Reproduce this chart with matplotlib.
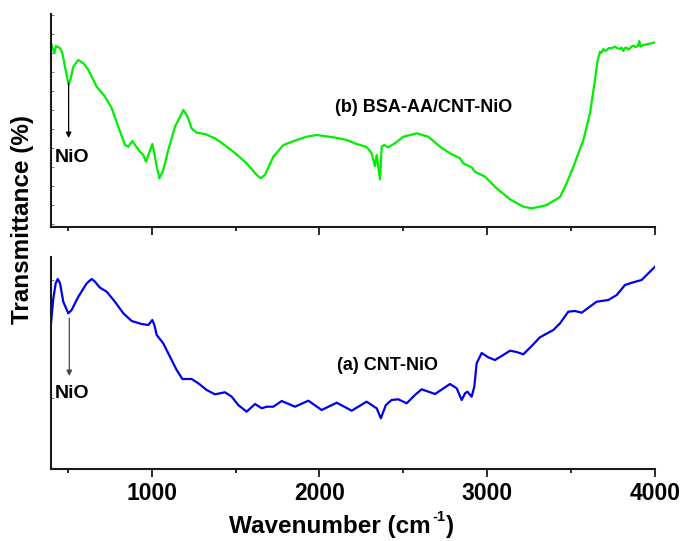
import matplotlib
matplotlib.use("Agg")
import matplotlib.pyplot as plt
import numpy as np

plt.rcParams['font.family'] = ['Liberation Sans', 'DejaVu Sans']
plt.rcParams['font.weight'] = 'bold'

# FTIR spectra (relative transmittance, arbitrary offset per panel)
wn_b = [400, 420, 430, 454, 468, 483, 505, 515, 533, 563, 593, 623, 672, 722,
        762, 801, 841, 861, 885, 905, 930, 950, 966, 984, 1004, 1016, 1030,
        1046, 1069, 1099, 1139, 1189, 1214, 1238, 1268, 1318, 1377, 1407, 1487,
        1566, 1626, 1650, 1675, 1725, 1785, 1864, 1924, 1983, 2083, 2162, 2222,
        2281, 2311, 2331, 2341, 2351, 2361, 2371, 2385, 2410, 2450, 2500, 2580,
        2649, 2719, 2778, 2838, 2857, 2907, 2927, 2987, 3056, 3136, 3215, 3265,
        3314, 3354, 3434, 3473, 3513, 3573, 3613, 3642, 3656, 3672, 3680, 3692,
        3700, 3712, 3725, 3742, 3761, 3775, 3791, 3800, 3811, 3820, 3831, 3842,
        3851, 3860, 3870, 3885, 3900, 3906, 3914, 3930, 3950, 3975, 4000]
t_bsa = [184.3, 173.7, 181.0, 178.7, 173.7, 160.3, 142.0, 147.0, 160.3, 167.0,
         163.7, 157.0, 140.3, 130.3, 118.7, 100.3, 82.0, 80.3, 86.0, 81.0, 75.3,
         72.0, 65.3, 73.7, 83.0, 73.7, 60.3, 48.7, 57.0, 77.0, 100.3, 117.0,
         110.3, 98.7, 94.3, 93.0, 88.7, 85.3, 75.3, 63.7, 52.0, 48.7, 52.0,
         70.3, 82.0, 87.0, 90.3, 92.0, 89.7, 87.0, 83.0, 80.0, 73.7, 61.0, 72.0,
         60.3, 47.7, 80.3, 82.0, 79.7, 83.7, 90.3, 93.7, 90.3, 80.3, 73.7, 68.7,
         63.7, 59.7, 55.3, 50.3, 38.7, 27.7, 20.3, 18.7, 20.3, 22.0, 30.0, 43.7,
         60.0, 87.0, 114.0, 147.0, 165.0, 175.3, 174.0, 178.0, 176.0, 177.0,
         179.0, 178.7, 180.3, 179.0, 178.0, 179.5, 176.0, 179.0, 179.3, 177.5,
         178.7, 180.5, 181.3, 180.0, 181.3, 186.0, 180.3, 182.0, 182.7, 183.5,
         184.7]

wn_a = [400, 414, 428, 440, 454, 473, 503, 523, 563, 613, 642, 662, 692, 732,
        781, 831, 881, 940, 980, 1004, 1016, 1030, 1069, 1109, 1149, 1183, 1238,
        1278, 1328, 1377, 1437, 1477, 1516, 1566, 1616, 1656, 1685, 1725, 1775,
        1854, 1934, 2013, 2103, 2192, 2281, 2341, 2366, 2396, 2430, 2470, 2520,
        2569, 2609, 2689, 2778, 2818, 2848, 2868, 2882, 2907, 2923, 2937, 2967,
        3006, 3046, 3086, 3136, 3175, 3215, 3265, 3314, 3394, 3434, 3483, 3523,
        3563, 3652, 3722, 3772, 3821, 3871, 3920, 3950, 4000]
t_cnt = [145.7, 170.7, 185.7, 190.0, 185.7, 167.3, 155.7, 159.0, 172.3, 185.7,
         190.0, 187.3, 181.3, 177.3, 167.3, 155.7, 148.0, 145.0, 144.0, 149.0,
         144.0, 134.0, 125.7, 112.3, 99.0, 90.0, 90.0, 85.7, 79.0, 74.7, 76.7,
         72.3, 64.0, 57.3, 65.0, 60.7, 62.3, 62.3, 68.0, 62.3, 68.3, 59.0, 66.3,
         58.3, 67.3, 60.7, 50.7, 64.0, 69.0, 69.7, 65.7, 74.0, 79.7, 75.0, 85.0,
         80.7, 69.0, 75.7, 77.3, 72.3, 82.3, 105.7, 116.0, 111.7, 109.0, 113.0,
         118.3, 117.0, 114.7, 123.0, 131.7, 139.0, 145.7, 157.3, 158.0, 156.3,
         167.3, 169.0, 174.0, 184.0, 186.7, 189.0, 194.0, 202.3]

major_ticks = [1000, 2000, 3000, 4000]
minor_ticks = [500, 1500, 2500, 3500]
tick_labels = ['1000', '2000', '3000', '4000']

W, H = 682, 541
fig = plt.figure(figsize=(W / 100, H / 100), dpi=100)
ax_top = fig.add_axes([51 / W, 1 - 227 / H, 604 / W, 213 / H])
ax_bot = fig.add_axes([51 / W, 1 - 469 / H, 604 / W, 212 / H])

spine_col = '#1a1a1a'
for ax in (ax_top, ax_bot):
    ax.set_xlim(400, 4000)
    for s in ('top', 'right'):
        ax.spines[s].set_visible(False)
    for s in ('left', 'bottom'):
        ax.spines[s].set_linewidth(1.5)
        ax.spines[s].set_color(spine_col)
    ax.set_xticks(major_ticks)
    ax.set_xticks(minor_ticks, minor=True)
    ax.tick_params(axis='x', which='major', direction='out', length=6,
                   width=1.3, color=spine_col, labelsize=16.5, pad=3)
    ax.tick_params(axis='x', which='minor', direction='out', length=3,
                   width=1.3, color=spine_col)
    ax.tick_params(axis='y', which='major', direction='in', length=2,
                   width=0.7, color='#777777', labelleft=False)

ax_top.set_ylim(0, 213)
ax_top.set_yticks(np.arange(3.3, 213, 19))
ax_top.tick_params(axis='x', labelbottom=False)
ax_bot.set_ylim(0, 212)
ax_bot.set_yticks([71.3, 189])
ax_bot.set_xticklabels(tick_labels, fontweight='bold')

ax_top.plot(wn_b, t_bsa, color='#00ee00', lw=1.6, solid_joinstyle='round')
ax_bot.plot(wn_a, t_cnt, color='#0000ee', lw=1.6, solid_joinstyle='round')

ax_top.text(2093, 120, '(b) BSA-AA/CNT-NiO', fontsize=13, fontweight='bold',
            ha='left', va='center')
ax_bot.text(2105, 103, '(a) CNT-NiO', fontsize=13, fontweight='bold',
            ha='left', va='center')

ax_top.annotate('', xy=(505, 89), xytext=(505, 144),
                arrowprops=dict(arrowstyle='-|>', color='black', lw=0.9,
                                mutation_scale=8, shrinkA=0, shrinkB=0))
ax_top.text(420, 69.5, 'NiO', fontsize=14, fontweight='bold',
            ha='left', va='center')
ax_bot.annotate('', xy=(509, 93), xytext=(509, 151),
                arrowprops=dict(arrowstyle='-|>', color='#444444', lw=0.9,
                                mutation_scale=8, shrinkA=0, shrinkB=0))
ax_bot.text(420, 76, 'NiO', fontsize=14, fontweight='bold',
            ha='left', va='center')

# x-axis title assembled from pieces so the exponent keeps a plain hyphen
xl_main = fig.text(229 / W, 1 - 533 / H, 'Wavenumber (cm', fontsize=17.5,
                   fontweight='bold', ha='left', va='baseline')
xl_sup = ax_bot.annotate('-1', xy=(1, 0.6), xycoords=xl_main,
                         xytext=(1, 0), textcoords='offset points',
                         fontsize=10.5, fontweight='bold',
                         ha='left', va='bottom', annotation_clip=False)
ax_bot.annotate(')', xy=(1, 0), xycoords=(xl_sup, xl_main),
                xytext=(0.5, 0), textcoords='offset points',
                fontsize=17.5, fontweight='bold', ha='left', va='bottom',
                annotation_clip=False)

fig.text(23 / W, 1 - 219 / H, 'Transmittance (%)', fontsize=17.5,
         fontweight='bold', ha='center', va='center', rotation=90)

fig.savefig('out.png', dpi=100)
